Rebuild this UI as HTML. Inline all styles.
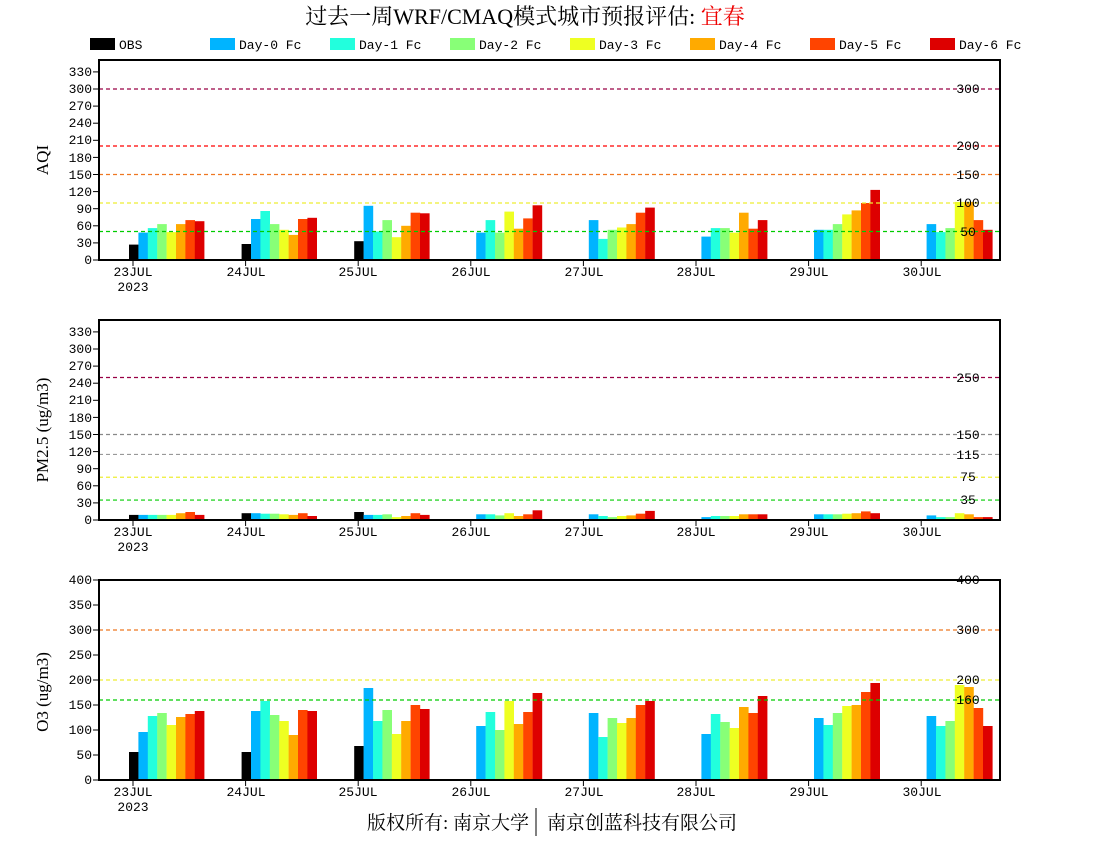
<!DOCTYPE html>
<html><head><meta charset="utf-8"><style>
body{margin:0;background:#fff;}
svg{display:block}
.t{font-family:"Liberation Mono",monospace;font-size:13px;}
.ax{font-family:"Liberation Serif",serif;font-size:17px;}
</style></head><body>
<svg id="s" width="1100" height="850" xmlns="http://www.w3.org/2000/svg">
<text x="525" y="24" text-anchor="middle" font-family="Liberation Serif,'Noto Serif CJK SC',serif" font-size="22">过去一周WRF/CMAQ模式城市预报评估: <tspan fill="#e00">宜春</tspan></text>
<g class="t" font-size="14">
<rect x="90" y="38" width="25" height="12" fill="#000"/><text x="119" y="49">OBS</text>
<rect x="210" y="38" width="25" height="12" fill="#00b4ff"/><text x="239" y="49">Day-0 Fc</text>
<rect x="330" y="38" width="25" height="12" fill="#22ffdd"/><text x="359" y="49">Day-1 Fc</text>
<rect x="450" y="38" width="25" height="12" fill="#88ff77"/><text x="479" y="49">Day-2 Fc</text>
<rect x="570" y="38" width="25" height="12" fill="#eeff22"/><text x="599" y="49">Day-3 Fc</text>
<rect x="690" y="38" width="25" height="12" fill="#ffaa00"/><text x="719" y="49">Day-4 Fc</text>
<rect x="810" y="38" width="25" height="12" fill="#ff4400"/><text x="839" y="49">Day-5 Fc</text>
<rect x="930" y="38" width="25" height="12" fill="#dd0000"/><text x="959" y="49">Day-6 Fc</text>
</g>
<g id="bars"></g>
<g id="lines"></g>
<g fill="none" stroke="#000" stroke-width="2">
<rect x="99" y="60" width="901" height="200"/>
<rect x="99" y="320" width="901" height="200"/>
<rect x="99" y="580" width="901" height="200"/>
</g>
<g id="ticks" stroke="#000"></g>
<g class="t" text-anchor="end">
<text x="92" y="264">0</text><text x="92" y="247">30</text><text x="92" y="230">60</text><text x="92" y="213">90</text><text x="92" y="196">120</text><text x="92" y="179">150</text><text x="92" y="162">180</text><text x="92" y="144">210</text><text x="92" y="127">240</text><text x="92" y="110">270</text><text x="92" y="93">300</text><text x="92" y="76">330</text>
<text x="92" y="524">0</text><text x="92" y="507">30</text><text x="92" y="490">60</text><text x="92" y="473">90</text><text x="92" y="456">120</text><text x="92" y="439">150</text><text x="92" y="422">180</text><text x="92" y="404">210</text><text x="92" y="387">240</text><text x="92" y="370">270</text><text x="92" y="353">300</text><text x="92" y="336">330</text>
<text x="92" y="784">0</text><text x="92" y="759">50</text><text x="92" y="734">100</text><text x="92" y="709">150</text><text x="92" y="684">200</text><text x="92" y="659">250</text><text x="92" y="634">300</text><text x="92" y="609">350</text><text x="92" y="584">400</text>
</g>
<g class="t" text-anchor="middle">
<text x="968" y="93">300</text><text x="968" y="150">200</text><text x="968" y="179">150</text><text x="968" y="207">100</text><text x="968" y="236">50</text>
<text x="968" y="382">250</text><text x="968" y="439">150</text><text x="968" y="459">115</text><text x="968" y="481">75</text><text x="968" y="504">35</text>
<text x="968" y="584">400</text><text x="968" y="634">300</text><text x="968" y="684">200</text><text x="968" y="704">160</text>
</g>
<g class="t" text-anchor="middle">
<text x="133" y="276">23JUL</text><text x="133" y="291">2023</text>
<text x="246" y="276">24JUL</text><text x="358" y="276">25JUL</text><text x="471" y="276">26JUL</text><text x="584" y="276">27JUL</text><text x="696" y="276">28JUL</text><text x="809" y="276">29JUL</text><text x="922" y="276">30JUL</text>
<text x="133" y="536">23JUL</text><text x="133" y="551">2023</text>
<text x="246" y="536">24JUL</text><text x="358" y="536">25JUL</text><text x="471" y="536">26JUL</text><text x="584" y="536">27JUL</text><text x="696" y="536">28JUL</text><text x="809" y="536">29JUL</text><text x="922" y="536">30JUL</text>
<text x="133" y="796">23JUL</text><text x="133" y="811">2023</text>
<text x="246" y="796">24JUL</text><text x="358" y="796">25JUL</text><text x="471" y="796">26JUL</text><text x="584" y="796">27JUL</text><text x="696" y="796">28JUL</text><text x="809" y="796">29JUL</text><text x="922" y="796">30JUL</text>
</g>
<g class="ax" text-anchor="middle">
<text transform="translate(48,160) rotate(-90)">AQI</text>
<text transform="translate(48,430) rotate(-90)">PM2.5 (ug/m3)</text>
<text transform="translate(48,692) rotate(-90)">O3 (ug/m3)</text>
</g>
<text x="448" y="829" text-anchor="middle" font-family="Liberation Serif,'Noto Serif CJK SC',serif" font-size="19">版权所有: 南京大学</text>
<line x1="536" y1="808" x2="536" y2="836" stroke="#000"/>
<text x="642" y="829" text-anchor="middle" font-family="Liberation Serif,'Noto Serif CJK SC',serif" font-size="19">南京创蓝科技有限公司</text>
</svg>
<script>
var C=["#000","#00b4ff","#22ffdd","#88ff77","#eeff22","#ffaa00","#ff4400","#dd0000"];
var A=[[27,48,56,63,49,63,70,68],[28,72,86,63,53,44,72,74],[33,95,50,70,40,60,83,82],[0,48,70,48,85,55,73,96],[0,70,37,53,57,63,83,92],[0,41,56,56,48,83,55,70],[0,53,53,63,80,87,100,123],[0,63,49,56,102,102,70,53]];
var P=[[9,9,9,9,9,12,14,9],[12,12,11,11,10,9,12,7],[14,9,9,10,5,7,12,9],[0,10,10,8,12,7,10,17],[0,10,7,5,7,8,11,16],[0,5,7,7,7,10,10,10],[0,10,10,10,11,12,15,12],[0,8,5,5,12,10,5,5]];
var O=[[56,96,128,134,110,126,132,138],[56,138,158,130,118,90,140,138],[68,184,118,140,92,118,150,142],[0,108,136,100,158,112,136,174],[0,134,86,124,114,124,150,158],[0,92,132,116,104,146,134,168],[0,124,110,134,148,150,176,194],[0,128,108,118,190,186,144,108]];
var ns="http://www.w3.org/2000/svg",g=document.getElementById("bars"),L=document.getElementById("lines"),T=document.getElementById("ticks");
function el(p,t,a){var e=document.createElementNS(ns,t);for(var k in a)e.setAttribute(k,a[k]);p.appendChild(e);}
function panel(D,base,sc){for(var i=0;i<8;i++)for(var j=0;j<8;j++){var v=D[i][j];if(!v)continue;var x=129+112.6*i+9.4*j;el(g,"rect",{x:x.toFixed(1),y:(base-v*sc).toFixed(1),width:9.6,height:(v*sc).toFixed(1),fill:C[j]});}
for(var i=0;i<8;i++){var x=133+112.6*i;el(T,"line",{x1:x,y1:base,x2:x,y2:base+6});}}
panel(A,260,0.57);panel(P,520,0.57);panel(O,780,0.5);
function hl(y,c){el(L,"line",{x1:99,y1:y,x2:1000,y2:y,stroke:c,"stroke-dasharray":"4,3","stroke-width":1.2});}
[[300,"#990044"],[200,"#ff0000"],[150,"#ee7722"],[100,"#eeee33"],[50,"#00cc00"]].forEach(function(a){hl(260-a[0]*0.57,a[1]);});
[[250,"#990044"],[150,"#888"],[115,"#999"],[75,"#eeee33"],[35,"#00cc00"]].forEach(function(a){hl(520-a[0]*0.57,a[1]);});
[[400,"#ff0000"],[300,"#ee7722"],[200,"#eeee33"],[160,"#00cc00"]].forEach(function(a){hl(780-a[0]*0.5,a[1]);});
for(var k=0;k<=11;k++){el(T,"line",{x1:93,y1:260-k*30*0.57,x2:99,y2:260-k*30*0.57});el(T,"line",{x1:93,y1:520-k*30*0.57,x2:99,y2:520-k*30*0.57});}
for(var k=0;k<=8;k++)el(T,"line",{x1:93,y1:780-k*25,x2:99,y2:780-k*25});
</script>
</body></html>
